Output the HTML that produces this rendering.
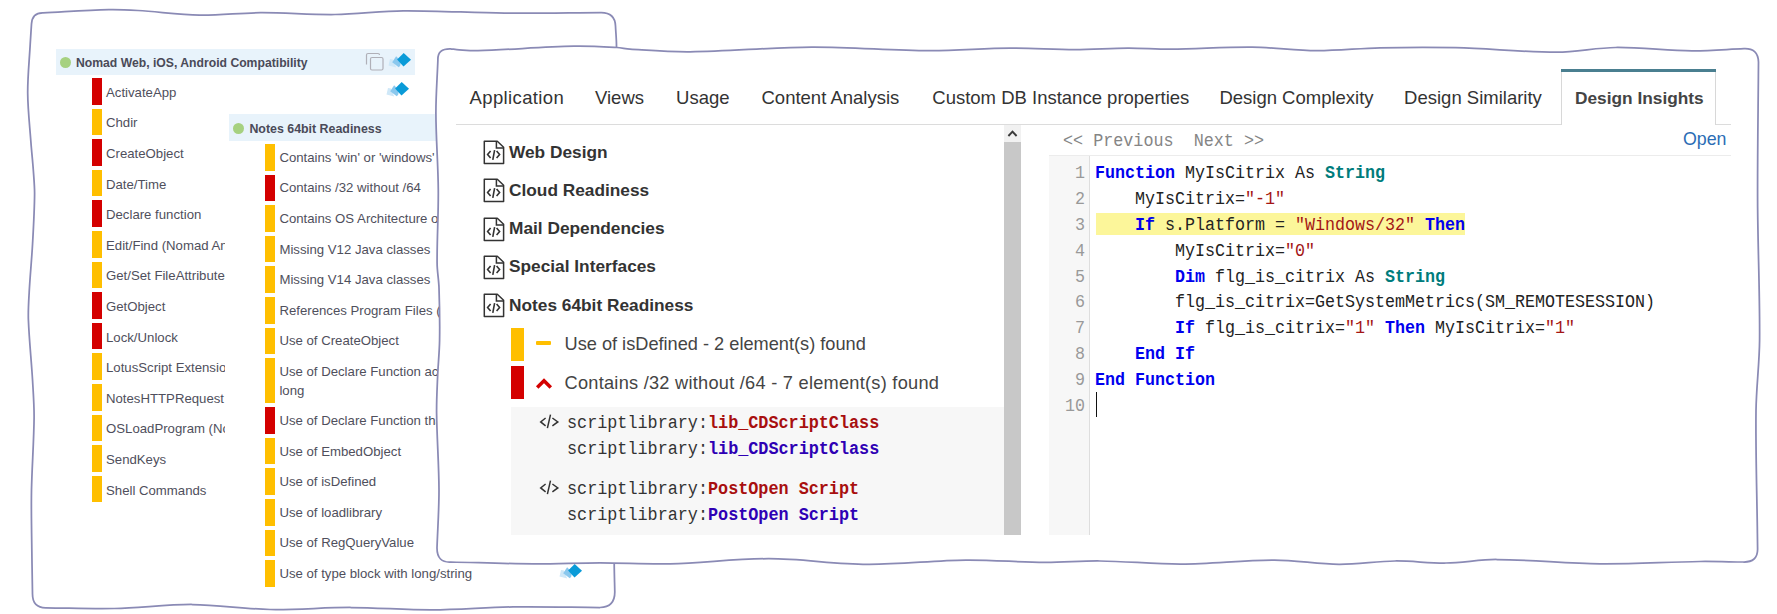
<!DOCTYPE html>
<html><head><meta charset="utf-8"><style>
html,body{margin:0;padding:0;background:#fff;width:1777px;height:614px;overflow:hidden;position:relative}
.t{position:absolute;white-space:pre;}
.r{position:absolute;}
.clip{position:absolute;overflow:hidden}
svg.r{display:block}
b{font-weight:bold}
</style></head><body>
<svg style="position:absolute;left:0;top:0" width="1777" height="614"><path d="M43.00,12.80 C64.93,11.73 86.86,10.13 108.80,9.60 C118.53,9.36 128.28,9.90 138.00,10.50 C158.52,11.77 178.98,14.83 199.50,15.20 C219.85,15.57 240.23,12.81 260.60,12.70 C285.39,12.57 310.21,14.83 335.00,14.50 C357.78,14.20 380.52,10.99 403.30,10.80 C437.02,10.52 470.76,12.79 504.50,13.10 C536.66,13.39 568.83,12.77 601.00,12.60 Q615.00,12.50 615.50,26.00 C615.83,33.00 616.56,39.99 616.50,47.00 C616.06,97.99 614.43,149.00 614.00,200.00 C613.43,266.66 613.46,333.33 613.50,400.00 C613.53,454.33 613.83,508.67 614.20,563.00 C614.27,572.67 614.60,582.33 614.80,592.00 Q614.80,607.20 600.00,607.50 C571.00,607.30 541.99,606.49 513.00,606.90 C485.99,607.29 459.00,609.80 432.00,609.90 C405.00,610.00 378.00,607.57 351.00,607.50 C324.00,607.43 296.98,610.01 270.00,609.50 C244.14,609.01 218.34,604.67 192.50,604.50 C166.51,604.33 140.52,607.91 114.50,608.50 C91.68,609.01 68.83,608.03 46.00,607.80 Q32.50,608.00 32.50,594.00 C32.20,573.67 31.80,553.33 31.60,533.00 C31.46,518.67 31.19,504.33 31.50,490.00 C32.02,465.93 33.86,441.87 34.10,417.80 C34.22,405.53 33.31,393.25 32.60,381.00 C31.41,360.65 29.18,340.35 28.40,320.00 C28.04,310.68 28.69,301.32 29.20,292.00 C30.09,275.75 31.70,259.55 32.60,243.30 C33.50,227.01 34.44,210.70 34.60,194.40 C34.68,186.26 33.87,178.12 33.30,170.00 C32.64,160.66 31.58,151.34 30.90,142.00 C29.72,125.78 27.82,109.54 27.70,93.30 C27.58,77.01 29.31,60.70 30.20,44.40 C30.57,37.60 31.07,30.80 31.50,24.00 Q32.20,12.50 43.00,12.80Z" fill="#fff" stroke="#8a8ab5" stroke-width="1.75"/></svg>
<div class="r" style="left:56.00px;top:49.00px;width:359.00px;height:26.00px;background:#e8f3fb;"></div><div class="r" style="left:59.5px;top:56.5px;width:11px;height:11px;border-radius:50%;background:#a6d180"></div><div class="t" style="left:76.00px;top:56.67px;font-size:12.2px;line-height:12.2px;color:#4a4a58;font-weight:bold;font-family:'Liberation Sans', sans-serif;">Nomad Web, iOS, Android Compatibility</div><div class="clip" style="left:56px;top:75px;width:169px;height:460px"><div class="r" style="left:36.00px;top:3.00px;width:10.00px;height:26.50px;background:#d40000;"></div><div class="t" style="left:50.00px;top:10.83px;font-size:13.2px;line-height:13.2px;color:#4f4f5c;font-weight:normal;font-family:'Liberation Sans', sans-serif;">ActivateApp</div><div class="r" style="left:36.00px;top:33.60px;width:10.00px;height:26.50px;background:#ffbf00;"></div><div class="t" style="left:50.00px;top:41.43px;font-size:13.2px;line-height:13.2px;color:#4f4f5c;font-weight:normal;font-family:'Liberation Sans', sans-serif;">Chdir</div><div class="r" style="left:36.00px;top:64.20px;width:10.00px;height:26.50px;background:#d40000;"></div><div class="t" style="left:50.00px;top:72.03px;font-size:13.2px;line-height:13.2px;color:#4f4f5c;font-weight:normal;font-family:'Liberation Sans', sans-serif;">CreateObject</div><div class="r" style="left:36.00px;top:94.80px;width:10.00px;height:26.50px;background:#ffbf00;"></div><div class="t" style="left:50.00px;top:102.63px;font-size:13.2px;line-height:13.2px;color:#4f4f5c;font-weight:normal;font-family:'Liberation Sans', sans-serif;">Date/Time</div><div class="r" style="left:36.00px;top:125.40px;width:10.00px;height:26.50px;background:#d40000;"></div><div class="t" style="left:50.00px;top:133.23px;font-size:13.2px;line-height:13.2px;color:#4f4f5c;font-weight:normal;font-family:'Liberation Sans', sans-serif;">Declare function</div><div class="r" style="left:36.00px;top:156.00px;width:10.00px;height:26.50px;background:#ffbf00;"></div><div class="t" style="left:50.00px;top:163.83px;font-size:13.2px;line-height:13.2px;color:#4f4f5c;font-weight:normal;font-family:'Liberation Sans', sans-serif;">Edit/Find (Nomad Android)</div><div class="r" style="left:36.00px;top:186.60px;width:10.00px;height:26.50px;background:#ffbf00;"></div><div class="t" style="left:50.00px;top:194.43px;font-size:13.2px;line-height:13.2px;color:#4f4f5c;font-weight:normal;font-family:'Liberation Sans', sans-serif;">Get/Set FileAttributes</div><div class="r" style="left:36.00px;top:217.20px;width:10.00px;height:26.50px;background:#d40000;"></div><div class="t" style="left:50.00px;top:225.03px;font-size:13.2px;line-height:13.2px;color:#4f4f5c;font-weight:normal;font-family:'Liberation Sans', sans-serif;">GetObject</div><div class="r" style="left:36.00px;top:247.80px;width:10.00px;height:26.50px;background:#d40000;"></div><div class="t" style="left:50.00px;top:255.63px;font-size:13.2px;line-height:13.2px;color:#4f4f5c;font-weight:normal;font-family:'Liberation Sans', sans-serif;">Lock/Unlock</div><div class="r" style="left:36.00px;top:278.40px;width:10.00px;height:26.50px;background:#ffbf00;"></div><div class="t" style="left:50.00px;top:286.23px;font-size:13.2px;line-height:13.2px;color:#4f4f5c;font-weight:normal;font-family:'Liberation Sans', sans-serif;">LotusScript Extensions</div><div class="r" style="left:36.00px;top:309.00px;width:10.00px;height:26.50px;background:#ffbf00;"></div><div class="t" style="left:50.00px;top:316.83px;font-size:13.2px;line-height:13.2px;color:#4f4f5c;font-weight:normal;font-family:'Liberation Sans', sans-serif;">NotesHTTPRequest</div><div class="r" style="left:36.00px;top:339.60px;width:10.00px;height:26.50px;background:#ffbf00;"></div><div class="t" style="left:50.00px;top:347.43px;font-size:13.2px;line-height:13.2px;color:#4f4f5c;font-weight:normal;font-family:'Liberation Sans', sans-serif;">OSLoadProgram (Notes)</div><div class="r" style="left:36.00px;top:370.20px;width:10.00px;height:26.50px;background:#ffbf00;"></div><div class="t" style="left:50.00px;top:378.03px;font-size:13.2px;line-height:13.2px;color:#4f4f5c;font-weight:normal;font-family:'Liberation Sans', sans-serif;">SendKeys</div><div class="r" style="left:36.00px;top:400.80px;width:10.00px;height:26.50px;background:#ffbf00;"></div><div class="t" style="left:50.00px;top:408.63px;font-size:13.2px;line-height:13.2px;color:#4f4f5c;font-weight:normal;font-family:'Liberation Sans', sans-serif;">Shell Commands</div></div><div class="r" style="left:229.00px;top:114.00px;width:220.00px;height:27.00px;background:#e8f3fb;"></div><div class="r" style="left:233px;top:122.5px;width:11px;height:11px;border-radius:50%;background:#a6d180"></div><div class="t" style="left:249.40px;top:122.50px;font-size:12.4px;line-height:12.4px;color:#4a4a58;font-weight:bold;font-family:'Liberation Sans', sans-serif;">Notes 64bit Readiness</div><div class="r" style="left:265.00px;top:144.00px;width:10.00px;height:26.50px;background:#ffbf00;"></div><div class="t" style="left:279.40px;top:150.83px;font-size:13.2px;line-height:13.2px;color:#4f4f5c;font-weight:normal;font-family:'Liberation Sans', sans-serif;">Contains 'win' or 'windows'</div><div class="r" style="left:265.00px;top:174.60px;width:10.00px;height:26.50px;background:#d40000;"></div><div class="t" style="left:279.40px;top:181.43px;font-size:13.2px;line-height:13.2px;color:#4f4f5c;font-weight:normal;font-family:'Liberation Sans', sans-serif;">Contains /32 without /64</div><div class="r" style="left:265.00px;top:205.20px;width:10.00px;height:26.50px;background:#ffbf00;"></div><div class="t" style="left:279.40px;top:212.03px;font-size:13.2px;line-height:13.2px;color:#4f4f5c;font-weight:normal;font-family:'Liberation Sans', sans-serif;">Contains OS Architecture or</div><div class="r" style="left:265.00px;top:235.80px;width:10.00px;height:26.50px;background:#ffbf00;"></div><div class="t" style="left:279.40px;top:242.63px;font-size:13.2px;line-height:13.2px;color:#4f4f5c;font-weight:normal;font-family:'Liberation Sans', sans-serif;">Missing V12 Java classes</div><div class="r" style="left:265.00px;top:266.40px;width:10.00px;height:26.50px;background:#ffbf00;"></div><div class="t" style="left:279.40px;top:273.23px;font-size:13.2px;line-height:13.2px;color:#4f4f5c;font-weight:normal;font-family:'Liberation Sans', sans-serif;">Missing V14 Java classes</div><div class="r" style="left:265.00px;top:297.00px;width:10.00px;height:26.50px;background:#ffbf00;"></div><div class="t" style="left:279.40px;top:303.83px;font-size:13.2px;line-height:13.2px;color:#4f4f5c;font-weight:normal;font-family:'Liberation Sans', sans-serif;">References Program Files (x86)</div><div class="r" style="left:265.00px;top:327.60px;width:10.00px;height:26.50px;background:#ffbf00;"></div><div class="t" style="left:279.40px;top:334.43px;font-size:13.2px;line-height:13.2px;color:#4f4f5c;font-weight:normal;font-family:'Liberation Sans', sans-serif;">Use of CreateObject</div><div class="r" style="left:265.00px;top:358.20px;width:10.00px;height:45.00px;background:#ffbf00;"></div><div class="t" style="left:279.40px;top:365.03px;font-size:13.2px;line-height:13.2px;color:#4f4f5c;font-weight:normal;font-family:'Liberation Sans', sans-serif;">Use of Declare Function accepting</div><div class="t" style="left:279.40px;top:383.83px;font-size:13.2px;line-height:13.2px;color:#4f4f5c;font-weight:normal;font-family:'Liberation Sans', sans-serif;">long</div><div class="r" style="left:265.00px;top:407.20px;width:10.00px;height:26.50px;background:#d40000;"></div><div class="t" style="left:279.40px;top:414.03px;font-size:13.2px;line-height:13.2px;color:#4f4f5c;font-weight:normal;font-family:'Liberation Sans', sans-serif;">Use of Declare Function that</div><div class="r" style="left:265.00px;top:437.80px;width:10.00px;height:26.50px;background:#ffbf00;"></div><div class="t" style="left:279.40px;top:444.63px;font-size:13.2px;line-height:13.2px;color:#4f4f5c;font-weight:normal;font-family:'Liberation Sans', sans-serif;">Use of EmbedObject</div><div class="r" style="left:265.00px;top:468.40px;width:10.00px;height:26.50px;background:#ffbf00;"></div><div class="t" style="left:279.40px;top:475.23px;font-size:13.2px;line-height:13.2px;color:#4f4f5c;font-weight:normal;font-family:'Liberation Sans', sans-serif;">Use of isDefined</div><div class="r" style="left:265.00px;top:499.00px;width:10.00px;height:26.50px;background:#ffbf00;"></div><div class="t" style="left:279.40px;top:505.83px;font-size:13.2px;line-height:13.2px;color:#4f4f5c;font-weight:normal;font-family:'Liberation Sans', sans-serif;">Use of loadlibrary</div><div class="r" style="left:265.00px;top:529.60px;width:10.00px;height:26.50px;background:#ffbf00;"></div><div class="t" style="left:279.40px;top:536.43px;font-size:13.2px;line-height:13.2px;color:#4f4f5c;font-weight:normal;font-family:'Liberation Sans', sans-serif;">Use of RegQueryValue</div><div class="r" style="left:265.00px;top:560.20px;width:10.00px;height:26.50px;background:#ffbf00;"></div><div class="t" style="left:279.40px;top:567.03px;font-size:13.2px;line-height:13.2px;color:#4f4f5c;font-weight:normal;font-family:'Liberation Sans', sans-serif;">Use of type block with long/string</div><svg class="r" style="left:382.0px;top:50.0px" width="32" height="20" viewBox="0 0 32 20">
<polygon points="8,9 11,9.5 14.2,17.5 6.5,15.5" fill="#cfe8f8"/>
<polygon points="14.1,6.2 19,11 18.2,15.8 16.8,17.3 10.2,12.2" fill="#8ac8ee"/>
<polygon points="21.7,3.1 29,9.7 21.5,16.4 15.1,9.5" fill="#0a9bd8"/>
</svg><svg class="r" style="left:380.0px;top:79.0px" width="32" height="20" viewBox="0 0 32 20">
<polygon points="8,9 11,9.5 14.2,17.5 6.5,15.5" fill="#cfe8f8"/>
<polygon points="14.1,6.2 19,11 18.2,15.8 16.8,17.3 10.2,12.2" fill="#8ac8ee"/>
<polygon points="21.7,3.1 29,9.7 21.5,16.4 15.1,9.5" fill="#0a9bd8"/>
</svg><svg class="r" style="left:553.0px;top:561.0px" width="32" height="20" viewBox="0 0 32 20">
<polygon points="8,9 11,9.5 14.2,17.5 6.5,15.5" fill="#cfe8f8"/>
<polygon points="14.1,6.2 19,11 18.2,15.8 16.8,17.3 10.2,12.2" fill="#8ac8ee"/>
<polygon points="21.7,3.1 29,9.7 21.5,16.4 15.1,9.5" fill="#0a9bd8"/>
</svg><svg class="r" style="left:364px;top:51px" width="22" height="22" viewBox="0 0 22 22">
<path d="M2.5,13.5 V4 Q2.5,2.5 4,2.5 H14 Q15.5,2.5 15.5,4" fill="none" stroke="#b0b0b8" stroke-width="1.2"/>
<rect x="6.5" y="6.5" width="12.5" height="12.5" rx="1.5" fill="none" stroke="#b0b0b8" stroke-width="1.2"/>
</svg>
<svg style="position:absolute;left:0;top:0" width="1777" height="614"><path d="M450.50,48.80 C453.40,49.13 456.29,49.61 459.20,49.80 C465.46,50.21 471.73,50.80 478.00,50.60 C510.00,49.60 541.99,46.91 574.00,46.20 C588.33,45.88 602.69,46.73 617.00,47.50 C621.36,47.73 625.64,48.94 630.00,49.20 C649.97,50.38 670.00,52.03 690.00,51.80 C730.60,51.33 771.19,47.29 811.80,47.10 C850.99,46.92 890.20,50.48 929.40,50.70 C956.27,50.85 983.13,48.38 1010.00,48.20 C1031.60,48.05 1053.20,49.70 1074.80,49.70 C1092.53,49.70 1110.27,48.29 1128.00,48.20 C1142.33,48.13 1156.67,49.33 1171.00,49.20 C1198.00,48.96 1225.01,46.82 1252.00,47.10 C1273.51,47.32 1294.99,50.58 1316.50,50.70 C1337.66,50.82 1358.82,48.26 1380.00,47.80 C1405.25,47.26 1430.55,47.07 1455.80,47.70 C1489.55,48.54 1523.29,52.24 1557.00,52.20 C1576.56,52.18 1596.04,47.70 1615.60,47.50 C1641.04,47.24 1666.53,50.58 1692.00,50.80 C1709.33,50.95 1726.67,49.33 1744.00,48.60 Q1758.00,48.00 1758.50,62.00 C1758.20,108.33 1757.42,154.67 1757.60,201.00 C1757.78,247.34 1759.95,293.69 1759.60,340.00 C1759.42,363.69 1756.27,387.32 1756.00,411.00 C1755.54,451.85 1756.93,492.73 1757.40,533.60 C1757.46,538.73 1757.53,543.87 1757.60,549.00 Q1757.80,562.50 1743.00,562.00 C1728.67,561.83 1714.33,561.32 1700.00,561.50 C1666.66,561.92 1633.32,564.13 1600.00,563.80 C1565.56,563.46 1531.12,559.68 1496.70,559.50 C1479.78,559.41 1462.91,562.75 1446.00,563.00 C1429.01,563.25 1411.99,560.79 1395.00,561.00 C1376.32,561.23 1357.66,564.44 1339.00,564.30 C1317.50,564.14 1296.02,560.14 1274.50,560.10 C1243.55,560.04 1212.57,563.84 1181.60,564.00 C1154.40,564.14 1127.20,561.32 1100.00,561.00 C1081.54,560.78 1063.07,562.52 1044.60,562.40 C1018.33,562.22 992.06,559.82 965.80,560.10 C932.96,560.45 900.12,564.53 867.30,564.30 C834.46,564.07 801.64,558.78 768.80,558.70 C735.97,558.62 703.15,562.98 670.30,563.80 C646.88,564.38 623.43,562.88 600.00,562.90 C577.80,562.92 555.60,564.03 533.40,563.90 C505.93,563.73 478.47,562.63 451.00,562.00 Q437.00,563.00 437.00,548.00 C437.67,528.67 439.06,509.33 439.00,490.00 C438.92,464.43 436.92,438.87 436.60,413.30 C436.45,401.10 437.10,388.89 437.60,376.70 C438.10,364.46 439.41,352.24 439.60,340.00 C439.87,322.61 439.57,305.18 439.00,287.80 C438.73,279.62 437.16,271.48 437.10,263.30 C436.93,238.88 438.50,214.43 438.30,190.00 C438.10,164.43 435.98,138.86 435.90,113.30 C435.85,95.53 437.23,77.77 437.90,60.00 Q437.50,48.50 450.50,48.80Z" fill="#fff" stroke="#8a8ab5" stroke-width="1.75"/></svg>
<div class="t" style="left:469.60px;top:89.34px;font-size:18.5px;line-height:18.5px;color:#333;font-weight:normal;font-family:'Liberation Sans', sans-serif;letter-spacing:0.37px">Application</div><div class="t" style="left:595.00px;top:89.34px;font-size:18.5px;line-height:18.5px;color:#333;font-weight:normal;font-family:'Liberation Sans', sans-serif;">Views</div><div class="t" style="left:676.10px;top:89.34px;font-size:18.5px;line-height:18.5px;color:#333;font-weight:normal;font-family:'Liberation Sans', sans-serif;">Usage</div><div class="t" style="left:761.50px;top:89.34px;font-size:18.5px;line-height:18.5px;color:#333;font-weight:normal;font-family:'Liberation Sans', sans-serif;">Content Analysis</div><div class="t" style="left:932.30px;top:89.34px;font-size:18.5px;line-height:18.5px;color:#333;font-weight:normal;font-family:'Liberation Sans', sans-serif;">Custom DB Instance properties</div><div class="t" style="left:1219.40px;top:89.34px;font-size:18.5px;line-height:18.5px;color:#333;font-weight:normal;font-family:'Liberation Sans', sans-serif;">Design Complexity</div><div class="t" style="left:1404.10px;top:89.34px;font-size:18.5px;line-height:18.5px;color:#333;font-weight:normal;font-family:'Liberation Sans', sans-serif;">Design Similarity</div><div class="r" style="left:1560.50px;top:69.00px;width:155.50px;height:56.00px;background:#fff;border-left:1px solid #d8d8d8;border-right:1px solid #d8d8d8;box-sizing:border-box"></div><div class="r" style="left:1560.50px;top:69.00px;width:155.50px;height:3.00px;background:#4a7f90;"></div><div class="t" style="left:1575.00px;top:90.36px;font-size:17.3px;line-height:17.3px;color:#444;font-weight:bold;font-family:'Liberation Sans', sans-serif;">Design Insights</div><div class="r" style="left:456.00px;top:124.00px;width:1104.50px;height:1.00px;background:#dcdcdc;"></div><div class="r" style="left:1716.00px;top:124.00px;width:15.00px;height:1.00px;background:#dcdcdc;"></div><div class="r" style="left:483px;top:140.2px"><svg width="22" height="25" viewBox="0 0 22 25"><path d="M1.3,1.3 H14.3 L20.6,7.2 V23.5 H1.3 Z" fill="none" stroke="#333" stroke-width="1.5" stroke-linejoin="round"/><path d="M13.4,1.3 V7.9 H20.6" fill="none" stroke="#333" stroke-width="1.5"/><path d="M7.6,10.9 L4.6,14.5 L7.6,18.1 M13.6,10.9 L16.6,14.5 L13.6,18.1 M11.6,10.2 L9.8,19.8" fill="none" stroke="#333" stroke-width="1.6"/></svg></div><div class="t" style="left:509.00px;top:143.76px;font-size:17.3px;line-height:17.3px;color:#333;font-weight:bold;font-family:'Liberation Sans', sans-serif;">Web Design</div><div class="r" style="left:483px;top:178.4px"><svg width="22" height="25" viewBox="0 0 22 25"><path d="M1.3,1.3 H14.3 L20.6,7.2 V23.5 H1.3 Z" fill="none" stroke="#333" stroke-width="1.5" stroke-linejoin="round"/><path d="M13.4,1.3 V7.9 H20.6" fill="none" stroke="#333" stroke-width="1.5"/><path d="M7.6,10.9 L4.6,14.5 L7.6,18.1 M13.6,10.9 L16.6,14.5 L13.6,18.1 M11.6,10.2 L9.8,19.8" fill="none" stroke="#333" stroke-width="1.6"/></svg></div><div class="t" style="left:509.00px;top:181.96px;font-size:17.3px;line-height:17.3px;color:#333;font-weight:bold;font-family:'Liberation Sans', sans-serif;">Cloud Readiness</div><div class="r" style="left:483px;top:216.6px"><svg width="22" height="25" viewBox="0 0 22 25"><path d="M1.3,1.3 H14.3 L20.6,7.2 V23.5 H1.3 Z" fill="none" stroke="#333" stroke-width="1.5" stroke-linejoin="round"/><path d="M13.4,1.3 V7.9 H20.6" fill="none" stroke="#333" stroke-width="1.5"/><path d="M7.6,10.9 L4.6,14.5 L7.6,18.1 M13.6,10.9 L16.6,14.5 L13.6,18.1 M11.6,10.2 L9.8,19.8" fill="none" stroke="#333" stroke-width="1.6"/></svg></div><div class="t" style="left:509.00px;top:220.16px;font-size:17.3px;line-height:17.3px;color:#333;font-weight:bold;font-family:'Liberation Sans', sans-serif;">Mail Dependencies</div><div class="r" style="left:483px;top:254.8px"><svg width="22" height="25" viewBox="0 0 22 25"><path d="M1.3,1.3 H14.3 L20.6,7.2 V23.5 H1.3 Z" fill="none" stroke="#333" stroke-width="1.5" stroke-linejoin="round"/><path d="M13.4,1.3 V7.9 H20.6" fill="none" stroke="#333" stroke-width="1.5"/><path d="M7.6,10.9 L4.6,14.5 L7.6,18.1 M13.6,10.9 L16.6,14.5 L13.6,18.1 M11.6,10.2 L9.8,19.8" fill="none" stroke="#333" stroke-width="1.6"/></svg></div><div class="t" style="left:509.00px;top:258.36px;font-size:17.3px;line-height:17.3px;color:#333;font-weight:bold;font-family:'Liberation Sans', sans-serif;">Special Interfaces</div><div class="r" style="left:483px;top:293.0px"><svg width="22" height="25" viewBox="0 0 22 25"><path d="M1.3,1.3 H14.3 L20.6,7.2 V23.5 H1.3 Z" fill="none" stroke="#333" stroke-width="1.5" stroke-linejoin="round"/><path d="M13.4,1.3 V7.9 H20.6" fill="none" stroke="#333" stroke-width="1.5"/><path d="M7.6,10.9 L4.6,14.5 L7.6,18.1 M13.6,10.9 L16.6,14.5 L13.6,18.1 M11.6,10.2 L9.8,19.8" fill="none" stroke="#333" stroke-width="1.6"/></svg></div><div class="t" style="left:509.00px;top:296.56px;font-size:17.3px;line-height:17.3px;color:#333;font-weight:bold;font-family:'Liberation Sans', sans-serif;">Notes 64bit Readiness</div><div class="r" style="left:511.00px;top:328.00px;width:13.00px;height:33.00px;background:#ffbf00;"></div><div class="r" style="left:511.00px;top:366.00px;width:13.00px;height:33.00px;background:#d40000;"></div><div class="r" style="left:536.30px;top:341.20px;width:14.80px;height:3.80px;background:#ffbf00;border-radius:1px"></div><svg class="r" style="left:535px;top:376px" width="18" height="14" viewBox="0 0 18 14"><path d="M2.2,11.6 L9,4.8 L15.8,11.6" fill="none" stroke="#d40000" stroke-width="3.5"/></svg><div class="t" style="left:564.50px;top:335.29px;font-size:18.2px;line-height:18.2px;color:#444;font-weight:normal;font-family:'Liberation Sans', sans-serif;">Use of isDefined - 2 element(s) found</div><div class="t" style="left:564.50px;top:374.09px;font-size:18.2px;line-height:18.2px;color:#444;font-weight:normal;font-family:'Liberation Sans', sans-serif;letter-spacing:0.26px">Contains /32 without /64 - 7 element(s) found</div><div class="r" style="left:511.00px;top:407.00px;width:493.00px;height:127.50px;background:#f7f7f7;"></div><div class="r" style="left:539px;top:413.2px"><svg width="21" height="17" viewBox="0 0 21 17"><path d="M6.6,5.0 L1.7,8.9 L6.6,12.8 M13.4,5.0 L18.8,8.9 L13.4,12.8 M11.5,1.6 L8.4,15.2" fill="none" stroke="#333" stroke-width="1.5"/></svg></div><div class="t" style="left:567.30px;top:414.40px;font-size:18px;line-height:18px;color:#333;font-weight:normal;font-family:'Liberation Mono', monospace;transform:scaleX(0.9324);transform-origin:0 0;">scriptlibrary:<b style="color:#a80f0f">lib_CDScriptClass</b></div><div class="t" style="left:567.30px;top:440.20px;font-size:18px;line-height:18px;color:#333;font-weight:normal;font-family:'Liberation Mono', monospace;transform:scaleX(0.9324);transform-origin:0 0;">scriptlibrary:<b style="color:#2e00b4">lib_CDScriptClass</b></div><div class="r" style="left:539px;top:479.2px"><svg width="21" height="17" viewBox="0 0 21 17"><path d="M6.6,5.0 L1.7,8.9 L6.6,12.8 M13.4,5.0 L18.8,8.9 L13.4,12.8 M11.5,1.6 L8.4,15.2" fill="none" stroke="#333" stroke-width="1.5"/></svg></div><div class="t" style="left:567.30px;top:480.40px;font-size:18px;line-height:18px;color:#333;font-weight:normal;font-family:'Liberation Mono', monospace;transform:scaleX(0.9324);transform-origin:0 0;">scriptlibrary:<b style="color:#a80f0f">PostOpen Script</b></div><div class="t" style="left:567.30px;top:506.20px;font-size:18px;line-height:18px;color:#333;font-weight:normal;font-family:'Liberation Mono', monospace;transform:scaleX(0.9324);transform-origin:0 0;">scriptlibrary:<b style="color:#2e00b4">PostOpen Script</b></div><div class="r" style="left:1004.00px;top:125.00px;width:17.00px;height:17.00px;background:#f1f1f1;"></div><div class="r" style="left:1004.00px;top:142.00px;width:17.00px;height:392.50px;background:#c8c8c8;"></div><svg class="r" style="left:1006px;top:128px" width="13" height="10" viewBox="0 0 13 10"><path d="M2.4,8 L6.5,3.6 L10.6,8" fill="none" stroke="#3a3a3a" stroke-width="1.9"/></svg><div class="t" style="left:1063.00px;top:132.20px;font-size:18px;line-height:18px;color:#858585;font-weight:normal;font-family:'Liberation Mono', monospace;transform:scaleX(0.9306);transform-origin:0 0;">&lt;&lt; Previous  Next &gt;&gt;</div><div class="t" style="left:1683.00px;top:130.93px;font-size:17.8px;line-height:17.8px;color:#2b6db5;font-weight:normal;font-family:'Liberation Sans', sans-serif;">Open</div><div class="r" style="left:1049.00px;top:155.00px;width:682.00px;height:1.00px;background:#ececec;"></div><div class="r" style="left:1096.00px;top:213.30px;width:369.00px;height:21.70px;background:#fcf69a;"></div><div class="r" style="left:1049.00px;top:156.00px;width:40.50px;height:378.50px;background:#f7f7f7;"></div><div class="r" style="left:1089.00px;top:156.00px;width:1.00px;height:378.50px;background:#dedede;"></div><div class="t" style="left:1075.00px;top:164.40px;font-size:18px;line-height:18px;color:#999;font-weight:normal;font-family:'Liberation Mono', monospace;transform:scaleX(0.9259);transform-origin:0 0;">1</div><div class="t" style="left:1095.00px;top:164.40px;font-size:18px;line-height:18px;color:#222;font-weight:normal;font-family:'Liberation Mono', monospace;transform:scaleX(0.9259);transform-origin:0 0;"><b style="color:#0000ee">Function</b> MyIsCitrix As <b style="color:#007c7c">String</b></div><div class="t" style="left:1075.00px;top:190.20px;font-size:18px;line-height:18px;color:#999;font-weight:normal;font-family:'Liberation Mono', monospace;transform:scaleX(0.9259);transform-origin:0 0;">2</div><div class="t" style="left:1095.00px;top:190.20px;font-size:18px;line-height:18px;color:#222;font-weight:normal;font-family:'Liberation Mono', monospace;transform:scaleX(0.9259);transform-origin:0 0;">    MyIsCitrix=<span style="color:#a31515">"-1"</span></div><div class="t" style="left:1075.00px;top:216.00px;font-size:18px;line-height:18px;color:#999;font-weight:normal;font-family:'Liberation Mono', monospace;transform:scaleX(0.9259);transform-origin:0 0;">3</div><div class="t" style="left:1095.00px;top:216.00px;font-size:18px;line-height:18px;color:#222;font-weight:normal;font-family:'Liberation Mono', monospace;transform:scaleX(0.9259);transform-origin:0 0;">    <b style="color:#0000ee">If</b> s.Platform = <span style="color:#a31515">"Windows/32"</span> <b style="color:#0000ee">Then</b></div><div class="t" style="left:1075.00px;top:241.80px;font-size:18px;line-height:18px;color:#999;font-weight:normal;font-family:'Liberation Mono', monospace;transform:scaleX(0.9259);transform-origin:0 0;">4</div><div class="t" style="left:1095.00px;top:241.80px;font-size:18px;line-height:18px;color:#222;font-weight:normal;font-family:'Liberation Mono', monospace;transform:scaleX(0.9259);transform-origin:0 0;">        MyIsCitrix=<span style="color:#a31515">"0"</span></div><div class="t" style="left:1075.00px;top:267.60px;font-size:18px;line-height:18px;color:#999;font-weight:normal;font-family:'Liberation Mono', monospace;transform:scaleX(0.9259);transform-origin:0 0;">5</div><div class="t" style="left:1095.00px;top:267.60px;font-size:18px;line-height:18px;color:#222;font-weight:normal;font-family:'Liberation Mono', monospace;transform:scaleX(0.9259);transform-origin:0 0;">        <b style="color:#0000ee">Dim</b> flg_is_citrix As <b style="color:#007c7c">String</b></div><div class="t" style="left:1075.00px;top:293.40px;font-size:18px;line-height:18px;color:#999;font-weight:normal;font-family:'Liberation Mono', monospace;transform:scaleX(0.9259);transform-origin:0 0;">6</div><div class="t" style="left:1095.00px;top:293.40px;font-size:18px;line-height:18px;color:#222;font-weight:normal;font-family:'Liberation Mono', monospace;transform:scaleX(0.9259);transform-origin:0 0;">        flg_is_citrix=GetSystemMetrics(SM_REMOTESESSION)</div><div class="t" style="left:1075.00px;top:319.20px;font-size:18px;line-height:18px;color:#999;font-weight:normal;font-family:'Liberation Mono', monospace;transform:scaleX(0.9259);transform-origin:0 0;">7</div><div class="t" style="left:1095.00px;top:319.20px;font-size:18px;line-height:18px;color:#222;font-weight:normal;font-family:'Liberation Mono', monospace;transform:scaleX(0.9259);transform-origin:0 0;">        <b style="color:#0000ee">If</b> flg_is_citrix=<span style="color:#a31515">"1"</span> <b style="color:#0000ee">Then</b> MyIsCitrix=<span style="color:#a31515">"1"</span></div><div class="t" style="left:1075.00px;top:345.00px;font-size:18px;line-height:18px;color:#999;font-weight:normal;font-family:'Liberation Mono', monospace;transform:scaleX(0.9259);transform-origin:0 0;">8</div><div class="t" style="left:1095.00px;top:345.00px;font-size:18px;line-height:18px;color:#222;font-weight:normal;font-family:'Liberation Mono', monospace;transform:scaleX(0.9259);transform-origin:0 0;">    <b style="color:#0000ee">End If</b></div><div class="t" style="left:1075.00px;top:370.80px;font-size:18px;line-height:18px;color:#999;font-weight:normal;font-family:'Liberation Mono', monospace;transform:scaleX(0.9259);transform-origin:0 0;">9</div><div class="t" style="left:1095.00px;top:370.80px;font-size:18px;line-height:18px;color:#222;font-weight:normal;font-family:'Liberation Mono', monospace;transform:scaleX(0.9259);transform-origin:0 0;"><b style="color:#0000ee">End Function</b></div><div class="t" style="left:1065.00px;top:396.60px;font-size:18px;line-height:18px;color:#999;font-weight:normal;font-family:'Liberation Mono', monospace;transform:scaleX(0.9259);transform-origin:0 0;">10</div><div class="t" style="left:1095.00px;top:396.60px;font-size:18px;line-height:18px;color:#222;font-weight:normal;font-family:'Liberation Mono', monospace;transform:scaleX(0.9259);transform-origin:0 0;"></div><div class="r" style="left:1096.00px;top:392.00px;width:1.30px;height:25.00px;background:#111;"></div>
</body></html>
